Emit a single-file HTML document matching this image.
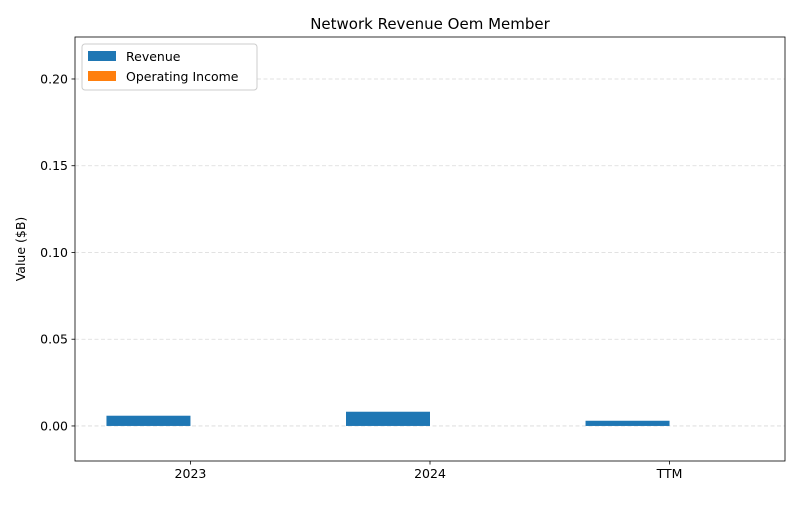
<!DOCTYPE html>
<html><head><meta charset="utf-8"><style>
body{margin:0;background:#fff;font-family:"Liberation Sans","DejaVu Sans",sans-serif;}
svg text{font-family:"DejaVu Sans","Liberation Sans",sans-serif;}
</style></head><body>
<svg id="c" width="800" height="500" xmlns="http://www.w3.org/2000/svg"></svg>
<script>
const categories=["2023","2024","TTM"];
const revenue=[0.0059,0.0082,0.003];
const operatingIncome=[0,0,0];
const yTicks=[0.00,0.05,0.10,0.15,0.20];
const yTickLabels=["0.00","0.05","0.10","0.15","0.20"];
const svg=document.getElementById('c');
const NS="http://www.w3.org/2000/svg";
const L=75,R=785,T=37,B=461,yMin=-0.0202,yMax=0.2242;
const xMin=-0.482,xMax=2.482;
function y(v){return B-(v-yMin)/(yMax-yMin)*(B-T);}
function x(i){return L+(i-xMin)/(xMax-xMin)*(R-L);}
const bw=84;
function mk(t,a,txt){const e=document.createElementNS(NS,t);for(const k in a)e.setAttribute(k,a[k]);if(txt!==undefined)e.textContent=txt;svg.appendChild(e);return e;}
mk('rect',{x:0,y:0,width:800,height:500,fill:'#fff'});
yTicks.forEach((v,i)=>{
 let g=mk('line',{x1:L,x2:R,y1:y(v),y2:y(v),stroke:'#d9d9d9','stroke-dasharray':'4,2.5','stroke-width':0.8});
 
 let tk=mk('line',{x1:L-3.5,x2:L,y1:y(v),y2:y(v),stroke:'#000','stroke-width':0.8});
 
 let t=mk('text',{x:L-7,y:y(v)+4.5,'text-anchor':'end','font-size':12.5},yTickLabels[i]);
 
});
categories.forEach((c,i)=>{
 let r=mk('rect',{x:x(i)-bw,y:Math.min(y(revenue[i]),y(0)),width:bw,height:Math.abs(y(0)-y(revenue[i])),fill:'#1f77b4'});
 
 let o=mk('rect',{x:x(i),y:Math.min(y(operatingIncome[i]),y(0)),width:bw,height:Math.abs(y(0)-y(operatingIncome[i])),fill:'#ff7f0e'});
 
 let tk=mk('line',{x1:x(i),x2:x(i),y1:B,y2:B+3.5,stroke:'#000','stroke-width':0.8});
 
 let t=mk('text',{x:x(i),y:B+17,'text-anchor':'middle','font-size':12.5},c);
 
});
let fr=mk('rect',{x:L,y:T,width:R-L,height:B-T,fill:'none',stroke:'#000','stroke-width':0.8});

let ti=mk('text',{x:(L+R)/2,y:29,'text-anchor':'middle','font-size':15},'Network Revenue Oem Member');

let yl=mk('text',{x:0,y:0,'text-anchor':'middle','font-size':12.5,transform:'translate(25,249) rotate(-90)'},'Value ($B)');

let lg=mk('rect',{x:82,y:44,width:175,height:46,fill:'#fff',stroke:'#ccc',rx:3});

[['Revenue','#1f77b4'],['Operating Income','#ff7f0e']].forEach((d,i)=>{
 let s=mk('rect',{x:88,y:51+i*20,width:28,height:10,fill:d[1]});
 
 let t=mk('text',{x:126,y:61+i*20,'font-size':12.5},d[0]);
 
});
</script>
</body></html>
